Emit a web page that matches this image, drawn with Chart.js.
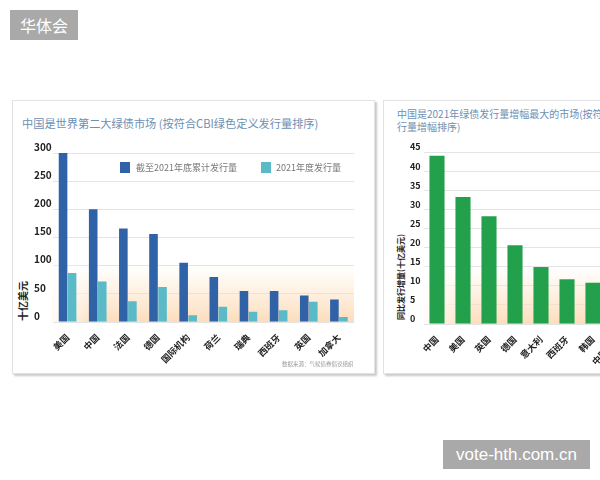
<!DOCTYPE html>
<html>
<head>
<meta charset="utf-8">
<script src="https://cdn.jsdelivr.net/npm/chart.js"></script>
<style>
  html, body { margin: 0; padding: 0; }
  body { width: 600px; height: 480px; overflow: hidden; position: relative; background: #fff;
         font-family: "Noto Sans CJK SC", "Noto Sans", sans-serif; }
  .card { position: absolute; top: 100px; height: 272px; background: #fff;
          border: 1px solid #e2e2e2; box-shadow: 2px 2px 2px rgba(0,0,0,0.22); }
  .abs { position: absolute; white-space: nowrap; }
  .title { color: #6b90b5; }
  .ytitle { font-weight: bold; color: #222; transform: translate(-50%, -50%) rotate(-90deg); }
  .box { position: absolute; width: 10px; height: 11px; }
  .leg { font-size: 9px; color: #777; line-height: 11px; }
  .mark { position: absolute; background: #a9a9a9; color: #fff; }
</style>
</head>
<body>
<div class="card" style="left:12px; width:361px;"></div>
<div class="card" style="left:383px; width:400px;"></div>

<div class="abs title" style="left:22px; top:116px; font-size:11.2px; line-height:15px;">中国是世界第二大绿债市场 (按符合CBI绿色定义发行量排序)</div>
<div class="abs title" style="left:397px; top:108px; font-size:10px; line-height:12.5px;">中国是2021年绿债发行量增幅最大的市场(按符合CBI绿色定义发<br>行量增幅排序)</div>

<canvas id="left" width="340" height="230" style="position:absolute; left:34px; top:140px;"></canvas>
<canvas id="right" width="300" height="230" style="position:absolute; left:410px; top:140px;"></canvas>

<div class="abs ytitle" style="left:22px; top:301px; font-size:10px;">十亿美元</div>
<div class="abs ytitle" style="left:400px; top:277px; font-size:8px;">同比发行增量(十亿美元)</div>

<div class="box" style="left:120px; top:162px; background:#2f62a6;"></div>
<div class="abs leg" style="left:136px; top:162px;">截至2021年底累计发行量</div>
<div class="box" style="left:261px; top:162px; background:#5bbac8;"></div>
<div class="abs leg" style="left:276px; top:162px;">2021年度发行量</div>

<div class="abs" style="left:282px; top:360px; font-size:5.5px; color:#999;">数据来源：气候债券倡议组织</div>

<div class="mark" style="left:10px; top:10px; width:68px; height:30px; line-height:30px; text-align:center; font-size:16px;">华体会</div>
<div class="mark" style="left:443px; top:440px; width:147px; height:29px; line-height:29px; text-align:center; font-size:17px; font-family:'Liberation Sans', sans-serif;">vote-hth.com.cn</div>

<script>
const countries = ['美国', '中国', '法国', '德国', '国际机构', '荷兰', '瑞典', '西班牙', '英国', '加拿大'];
const cumulative = [306, 200, 166, 156, 105, 80, 55, 55, 47, 40];
const issued2021 = [87, 72, 37, 62, 12, 27, 18, 21, 36, 9];

const growthMarkets = ['中国', '美国', '英国', '德国', '意大利', '西班牙', '韩国', '中国香港'];
const growth = [44, 33.2, 28.2, 20.6, 14.9, 11.7, 10.8, 9.5];

const leftMax = 300, leftStep = 50;
const rightMax = 45, rightStep = 5;

// peach glow behind the lower part of each plot
const peach = {
  id: 'peach',
  beforeDatasetsDraw(chart, args, opts) {
    const { ctx, chartArea: a, scales: { y } } = chart;
    const top = y.getPixelForValue(opts.from);
    ctx.save();
    const g = ctx.createLinearGradient(0, top, 0, a.bottom);
    g.addColorStop(0, 'rgba(253,226,196,0)');
    g.addColorStop(1, 'rgba(252,221,188,1)');
    ctx.fillStyle = g;
    ctx.fillRect(a.left, top, a.width, a.bottom - top);
    const h = ctx.createLinearGradient(a.left, 0, a.left + 45, 0);
    h.addColorStop(0, 'rgba(255,255,255,0.9)');
    h.addColorStop(1, 'rgba(255,255,255,0)');
    ctx.fillStyle = h;
    ctx.fillRect(a.left, top, 45, a.bottom - top);
    ctx.restore();
  }
};

const font = { family: '"Noto Sans CJK SC", sans-serif', weight: 'bold' };

function axes(max, step, yW, xH, off, fs) {
  return {
    x: {
      grid: { display: false },
      border: { display: false },
      ticks: { color: '#222', font: { ...font, size: 9 }, minRotation: 45, maxRotation: 45, padding: 2, autoSkip: false },
      afterFit(s) { s.height = xH; }
    },
    y: {
      min: 0, max: max,
      border: { display: false },
      grid: { color: '#e4e4e4', drawTicks: false },
      ticks: { stepSize: step, color: '#222', font: { ...font, size: fs }, crossAlign: 'far', labelOffset: off, padding: 0 },
      afterFit(s) { s.width = yW; }
    }
  };
}

new Chart(document.getElementById('left'), {
  type: 'bar',
  data: {
    labels: countries,
    datasets: [
      { label: '截至2021年底累计发行量', data: cumulative, backgroundColor: '#2f62a6', categoryPercentage: 0.6, barPercentage: 0.95 },
      { label: '2021年度发行量', data: issued2021, backgroundColor: '#5bbac8', categoryPercentage: 0.6, barPercentage: 0.95 }
    ]
  },
  options: {
    responsive: false,
    animation: false,
    layout: { padding: { top: 13, right: 20, left: 0, bottom: 0 } },
    plugins: { legend: { display: false }, tooltip: { enabled: false }, peach: { from: 100 } },
    scales: axes(leftMax, leftStep, 18.5, 48, -6, 10)
  },
  plugins: [peach]
});

new Chart(document.getElementById('right'), {
  type: 'bar',
  data: {
    labels: growthMarkets,
    datasets: [
      { label: '同比发行增量', data: growth, backgroundColor: '#23a04b', categoryPercentage: 0.58, barPercentage: 1 }
    ]
  },
  options: {
    responsive: false,
    animation: false,
    layout: { padding: { top: 12, right: 78, left: 0, bottom: 0 } },
    plugins: { legend: { display: false }, tooltip: { enabled: false }, peach: { from: 15 } },
    scales: axes(rightMax, rightStep, 14, 46, -5, 9)
  },
  plugins: [peach]
});
</script>
</body>
</html>
